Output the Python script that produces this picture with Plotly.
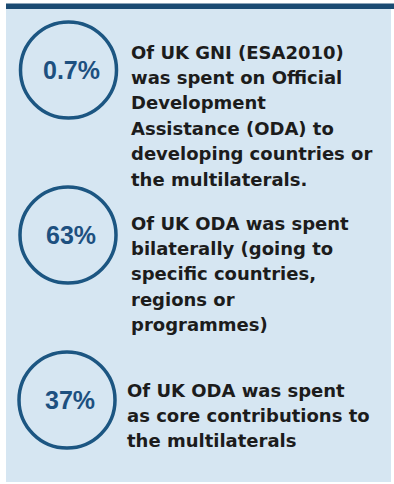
import plotly.graph_objects as go

# Headline shares and their explanations
shares = ["0.7%", "63%", "37%"]
descriptions = [
    ["Of UK GNI (ESA2010)", "was spent on Official", "Development",
     "Assistance (ODA) to", "developing countries or", "the multilaterals."],
    ["Of UK ODA was spent", "bilaterally (going to", "specific countries,",
     "regions or", "programmes)"],
    ["Of UK ODA was spent", "as core contributions to", "the multilaterals"],
]

W, H = 394, 484
PANEL = "#d6e6f2"
NAVY = "#1b4b72"
RING = "#1c5682"
INK = "#1c1c1c"

# block layout: ring centre (x, y), text x, first text line y
ring_cx = [68.5, 68, 67]
ring_cy = [70, 235, 400]
ring_r = 48
text_x = [129, 129, 125]
text_y0 = [52, 223, 390]
pitch = 25.4

fig = go.Figure()

shapes = [
    dict(type="rect", x0=6, x1=391, y0=8, y1=482, fillcolor=PANEL, line_width=0, layer="below"),
    dict(type="rect", x0=6, x1=394, y0=3.5, y1=9, fillcolor=NAVY, line_width=0),
]
annotations = []
for i, share in enumerate(shares):
    cx, cy = ring_cx[i], ring_cy[i]
    shapes.append(dict(type="circle", x0=cx - ring_r, x1=cx + ring_r,
                       y0=cy - ring_r, y1=cy + ring_r,
                       line=dict(color=RING, width=3.5), fillcolor="rgba(0,0,0,0)"))
    annotations.append(dict(x=cx + 3, y=cy, text=share, showarrow=False,
                            xanchor="center", yanchor="middle",
                            font=dict(family="Liberation Sans", size=25, color="#1d5080",
                                      weight="bold")))
    for j, line in enumerate(descriptions[i]):
        annotations.append(dict(x=text_x[i], y=text_y0[i] + j * pitch, text=line,
                                showarrow=False, xanchor="left", yanchor="middle",
                                font=dict(family="DejaVu Sans", size=18, color=INK,
                                          weight="bold")))

fig.update_layout(
    width=W, height=H,
    margin=dict(l=0, r=0, t=0, b=0),
    paper_bgcolor="white", plot_bgcolor="white",
    xaxis=dict(range=[0, W], visible=False, fixedrange=True),
    yaxis=dict(range=[H, 0], visible=False, fixedrange=True),
    shapes=shapes, annotations=annotations,
    showlegend=False,
)

fig.write_html("out.html", config={"displayModeBar": False})
